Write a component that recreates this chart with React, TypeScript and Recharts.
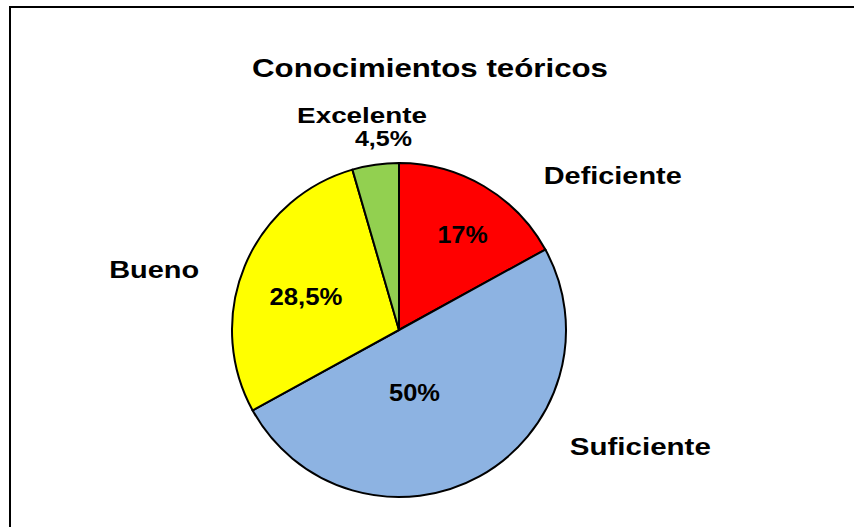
import React from "react";
import { PieChart, Pie, Cell } from "recharts";

const categories = ["Deficiente", "Suficiente", "Bueno", "Excelente"];
const values = [17, 50, 28.5, 4.5];
const colors = ["#FF0000", "#8DB3E2", "#FFFF00", "#92D050"];
const title = "Conocimientos teóricos";

const data = categories.map((name, i) => ({ name, value: values[i] }));

// label layout: offsets from pie center in units of outer radius, and rendered widths
const nameLayout = [
  { x: 1.28, y: -0.875, w: 138, fs: 23 },
  { x: 1.445, y: 0.75, w: 141, fs: 23 },
  { x: -1.466, y: -0.31, w: 90, fs: 23 },
  { x: -0.221, y: -1.238, w: 130, fs: 22 },
];
const valueLayout = [
  { x: 0.381, y: -0.518, w: 50, fs: 23 },
  { x: 0.093, y: 0.423, w: 51, fs: 23 },
  { x: -0.557, y: -0.149, w: 73, fs: 23 },
  { x: -0.093, y: -1.1, w: 57, fs: 22 },
];

const fmt = (v: number) => String(v).replace(".", ",") + "%";

const FONT = "'Liberation Sans', Arial, sans-serif";

const renderLabel = (props: any) => {
  const { cx, cy, outerRadius, index, value } = props;
  const n = nameLayout[index];
  const v = valueLayout[index];
  return (
    <g>
      <text
        x={cx + n.x * outerRadius}
        y={cy + n.y * outerRadius}
        textAnchor="middle"
        fontFamily={FONT}
        fontWeight="bold"
        fontSize={n.fs}
        fill="#000"
        textLength={n.w}
        lengthAdjust="spacingAndGlyphs"
      >
        {categories[index]}
      </text>
      <text
        x={cx + v.x * outerRadius}
        y={cy + v.y * outerRadius}
        textAnchor="middle"
        fontFamily={FONT}
        fontWeight="bold"
        fontSize={v.fs}
        fill="#000"
        textLength={v.w}
        lengthAdjust="spacingAndGlyphs"
      >
        {fmt(value)}
      </text>
    </g>
  );
};

export default function App() {
  return (
    <div style={{ position: "absolute", left: 0, top: 0, width: 854, height: 527, background: "#fff", overflow: "hidden" }}>
      <div
        style={{
          position: "absolute",
          left: 9,
          top: 6,
          width: 900,
          height: 600,
          borderLeft: "2px solid #000",
          borderTop: "2px solid #000",
        }}
      />
      <svg width={854} height={527} style={{ position: "absolute", left: 0, top: 0 }}>
        <text
          x={430}
          y={77}
          textAnchor="middle"
          fontFamily={FONT}
          fontWeight="bold"
          fontSize={26}
          fill="#000"
          textLength={356}
          lengthAdjust="spacingAndGlyphs"
        >
          {title}
        </text>
      </svg>
      <div style={{ position: "absolute", left: 0, top: 0 }}>
        <PieChart width={854} height={527} margin={{ top: 0, right: 0, bottom: 0, left: 0 }}>
          <Pie
            data={data}
            dataKey="value"
            nameKey="name"
            cx={399}
            cy={330}
            outerRadius={167}
            startAngle={90}
            endAngle={-270}
            stroke="#000"
            strokeWidth={2}
            label={renderLabel}
            labelLine={false}
            isAnimationActive={false}
          >
            {data.map((d, i) => (
              <Cell key={d.name} fill={colors[i]} />
            ))}
          </Pie>
        </PieChart>
      </div>
    </div>
  );
}
